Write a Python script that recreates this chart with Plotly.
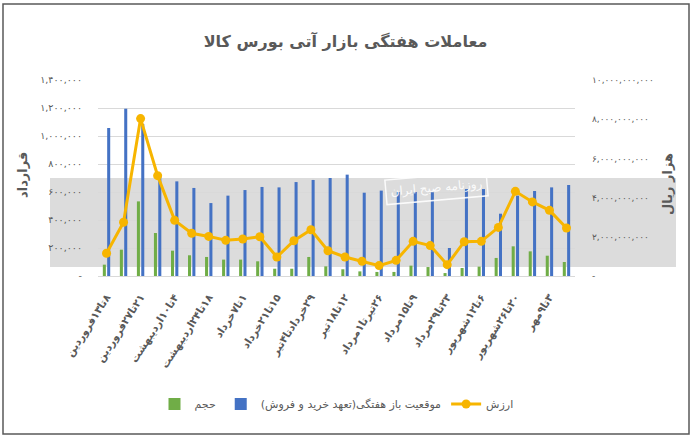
import plotly.graph_objects as go

# ---- data ----
weeks = list(range(1, 29))
tick_labels = [
    "۸تا۱۳فروردین", "۲۱تا۲۷فروردین", "۴تا۱۰اردیبهشت", "۱۸تا۲۴اردیبهشت",
    "۱تا۷خرداد", "۱۵تا۲۱خرداد", "۲۹خردادتا۴تیر", "۱۲تا۱۸تیر",
    "۲۶تیرتا۱مرداد", "۹تا۱۵مرداد", "۲۳تا۲۹مرداد", "۶تا۱۲شهریور",
    "۲۰تا۲۶شهریور", "۳تا۹مهر",
]
volume = [81000, 188000, 533000, 307000, 181000, 148000, 136000, 117000, 117000, 105000,
          52000, 52000, 136000, 69000, 48000, 33000, 29000, 29000, 74000, 64000,
          21000, 57000, 67000, 129000, 212000, 176000, 145000, 100000]
open_interest = [1057000, 1195000, 1086000, 729000, 676000, 629000, 521000, 574000, 614000, 636000,
                 633000, 671000, 686000, 700000, 724000, 595000, 610000, 600000, 600000, 598000,
                 200000, 621000, 621000, 445000, 574000, 607000, 633000, 650000]
value = [1.16e9, 2.74e9, 8.03e9, 5.12e9, 2.84e9, 2.18e9, 2.02e9, 1.82e9, 1.89e9, 2.00e9,
         0.97e9, 1.80e9, 2.36e9, 1.29e9, 0.97e9, 0.75e9, 0.53e9, 0.80e9, 1.77e9, 1.55e9,
         0.58e9, 1.75e9, 1.77e9, 2.48e9, 4.32e9, 3.78e9, 3.35e9, 2.45e9]
left_ticks = [0, 200000, 400000, 600000, 800000, 1000000, 1200000, 1400000]
left_ticktext = ["-", "۲۰۰,۰۰۰", "۴۰۰,۰۰۰", "۶۰۰,۰۰۰", "۸۰۰,۰۰۰", "۱,۰۰۰,۰۰۰", "۱,۲۰۰,۰۰۰", "۱,۴۰۰,۰۰۰"]
right_ticks = [0, 2e9, 4e9, 6e9, 8e9, 10e9]
right_ticktext = ["-", "۲,۰۰۰,۰۰۰,۰۰۰", "۴,۰۰۰,۰۰۰,۰۰۰", "۶,۰۰۰,۰۰۰,۰۰۰", "۸,۰۰۰,۰۰۰,۰۰۰", "۱۰,۰۰۰,۰۰۰,۰۰۰"]

title_text = "معاملات هفتگی بازار آتی بورس کالا"
name_volume = "حجم"
name_oi = "موقعیت باز هفتگی(تعهد خرید و فروش)"
name_value = "ارزش"
left_title = "قرارداد"
right_title = "هزار ریال"
watermark = "روزنامه صبح ایران"


def rtl(s):
    return "\u202b" + s + "\u202c"


FONT = "DejaVu Sans"
GRAY = "#595959"

fig = go.Figure()
fig.add_trace(go.Bar(x=weeks, y=volume, name=rtl(name_volume), marker_color="#70AD47",
                     marker_line_width=0, yaxis="y"))
fig.add_trace(go.Bar(x=weeks, y=open_interest, name=rtl(name_oi), marker_color="#4472C4",
                     marker_line_width=0, yaxis="y"))
fig.add_trace(go.Scatter(x=weeks, y=value, name=rtl(name_value), mode="lines+markers",
                         line=dict(color="#F7B500", width=3),
                         marker=dict(color="#F7B500", size=9), yaxis="y2"))

L, R, T, B = 98, 116, 80, 161
W, H = 691, 437
pw, ph = W - L - R, H - T - B


def px(xp):
    return (xp - L) / pw


def py(yp):
    return (H - B - yp) / ph


fig.update_layout(
    width=W, height=H,
    margin=dict(l=L, r=R, t=T, b=B, autoexpand=False),
    paper_bgcolor="white", plot_bgcolor="rgba(0,0,0,0)",
    font=dict(family=FONT, color=GRAY),
    barmode="group", bargap=0.49, bargroupgap=0.3,
    title=dict(text=rtl(title_text), x=0.5, xanchor="center", y=1 - 41 / H, yanchor="middle",
               font=dict(family=FONT, size=16, color=GRAY, weight="bold")),
    xaxis=dict(range=[0.5, 28.5], tickvals=weeks[::2], ticktext=[rtl(t) for t in tick_labels],
               tickangle=-57, tickfont=dict(size=10.5, color=GRAY, weight="bold"),
               showgrid=False, showline=True, linecolor="#d9d9d9", linewidth=1,
               ticks="", ticklabelstandoff=10, zeroline=False),
    yaxis=dict(range=[0, 1400000], tickvals=left_ticks, ticktext=left_ticktext,
               showgrid=True, gridcolor="#d9d9d9", gridwidth=1, zeroline=False,
               tickfont=dict(size=9.5, color=GRAY), ticklabelstandoff=15),
    yaxis2=dict(range=[0, 10e9], tickvals=right_ticks, ticktext=right_ticktext,
                overlaying="y", side="right", showgrid=False, zeroline=False,
                tickfont=dict(size=9, color=GRAY), ticklabelstandoff=16),
    legend=dict(orientation="h", x=0.5, xanchor="center", y=py(404), yanchor="middle",
                font=dict(size=11, color=GRAY), traceorder="normal", itemwidth=30),
    showlegend=True,
)

# axis titles
fig.add_annotation(xref="paper", yref="paper", x=px(22), y=py(175), xanchor="center", yanchor="middle",
                   text=rtl(left_title), showarrow=False, textangle=-90,
                   font=dict(family=FONT, size=13, color=GRAY, weight="bold"))
fig.add_annotation(xref="paper", yref="paper", x=px(667), y=py(184), xanchor="center", yanchor="middle",
                   text=rtl(right_title), showarrow=False, textangle=-90,
                   font=dict(family=FONT, size=13, color=GRAY, weight="bold"))

# watermark band and outer chart border
fig.add_shape(type="rect", xref="paper", yref="paper", x0=px(50), x1=px(676), y0=py(267), y1=py(178),
              fillcolor="#dcdcdc", line_width=0, layer="below")
fig.add_shape(type="rect", xref="paper", yref="paper", x0=px(3), x1=px(689), y0=py(434), y1=py(4),
              line=dict(color="#595959", width=1.5), fillcolor="rgba(0,0,0,0)", layer="above")
fig.add_annotation(xref="paper", yref="paper", x=px(436), y=py(188), xanchor="center", yanchor="middle",
                   text=rtl(watermark), showarrow=False, textangle=-5,
                   font=dict(family=FONT, size=12, color="white"),
                   bordercolor="white", borderwidth=1.5, borderpad=4, opacity=0.9)

fig.write_html("out.html", config={"displayModeBar": False},
               post_script="document.body.style.margin='0';document.body.style.overflow='hidden';")
